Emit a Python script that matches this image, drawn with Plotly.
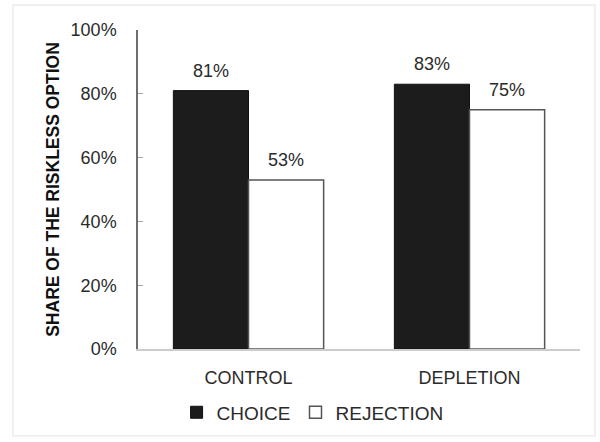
import plotly.graph_objects as go

# Share of the riskless option by condition and task frame
conditions = ["CONTROL", "DEPLETION"]
choice = [0.81, 0.83]
rejection = [0.53, 0.75]
y_ticks = [0, 0.2, 0.4, 0.6, 0.8, 1.0]

FONT = "Arial, Liberation Sans, sans-serif"
TEXT = "#2b2b2b"
BAR_PX = 75  # half of a category group's drawn width

fig = go.Figure()
fig.add_trace(go.Bar(
    x=conditions, y=choice, name="CHOICE",
    marker=dict(color="#1c1c1c", line=dict(color="#111111", width=1)),
))
fig.add_trace(go.Bar(
    x=conditions, y=rejection, name="REJECTION",
    marker=dict(color="#ffffff", line=dict(color="#555555", width=1.5)),
))

# value labels above each bar
annotations = []
for series, shift in ((choice, -BAR_PX / 2), (rejection, BAR_PX / 2)):
    for cat, v in zip(conditions, series):
        annotations.append(dict(
            x=cat, y=v, xref="x", yref="y", text=f"{v:.0%}",
            showarrow=False, xshift=shift, yshift=20, yanchor="middle",
            font=dict(size=18, color=TEXT, family=FONT),
        ))

fig.update_layout(
    width=600, height=442,
    margin=dict(l=138, r=20, t=30, b=92),
    paper_bgcolor="white", plot_bgcolor="white",
    barmode="group", bargap=0.32, bargroupgap=0,
    font=dict(family=FONT, color=TEXT, size=18),
    showlegend=True,
    legend=dict(
        orientation="h", x=0.395, xanchor="center", y=-0.195, yanchor="middle",
        font=dict(size=19, color=TEXT, family=FONT),
        itemwidth=30, tracegroupgap=0,
    ),
    xaxis=dict(
        showline=True, linecolor="#cccccc", linewidth=1.5,
        ticks="", tickfont=dict(size=18, color=TEXT), showgrid=False,
        ticklabelstandoff=12,
    ),
    yaxis=dict(
        range=[0, 1], tickvals=y_ticks, tickformat=".0%",
        showline=True, linecolor="#6e6e6e", linewidth=1.5,
        ticks="inside", ticklen=5, tickcolor="#aaaaaa",
        showgrid=False, zeroline=False,
        tickfont=dict(size=18, color=TEXT), ticklabelstandoff=16,
        title=dict(text="<b>SHARE OF THE RISKLESS OPTION</b>",
                   font=dict(size=17.5, color="#111111"), standoff=6),
    ),
    annotations=annotations,
    shapes=[dict(
        type="rect", xref="paper", yref="paper",
        x0=-0.283, x1=1.034, y0=-0.272, y1=1.078,
        line=dict(color="#ececec", width=1.5),
    )],
)

fig.write_html("out.html")
